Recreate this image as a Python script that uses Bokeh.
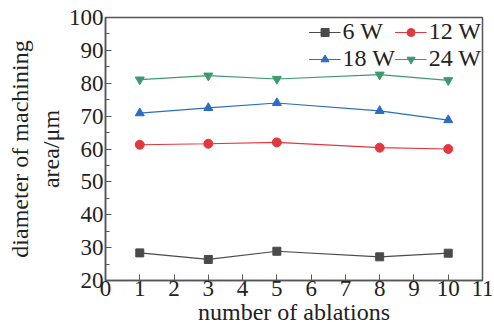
from bokeh.plotting import figure
from bokeh.embed import file_html
from bokeh.resources import INLINE
from bokeh.models import Legend, LegendItem, FixedTicker, Range1d

ablations = [1, 3, 5, 8, 10]
w6 = [28.4, 26.4, 28.9, 27.2, 28.3]
w12 = [61.3, 61.6, 62.0, 60.4, 60.0]
w18 = [70.9, 72.5, 74.0, 71.6, 68.8]
w24 = [81.1, 82.3, 81.3, 82.6, 80.9]
series_labels = ["6 W", "12 W", "18 W", "24 W"]
x_ticks = list(range(0, 12))
y_ticks = list(range(20, 101, 10))

FONT = "Liberation Serif"

p = figure(width=494, height=333, output_backend="svg", toolbar_location=None,
           x_range=Range1d(0, 11), y_range=Range1d(20, 100),
           min_border_left=105, min_border_right=12, min_border_top=17, min_border_bottom=53)
p.background_fill_color = "white"
p.border_fill_color = "white"
p.outline_line_color = "#555555"
p.outline_line_width = 1.5
p.grid.visible = False

colors = ["#4a4a4a", "#e0393f", "#2b6cc4", "#3d9a6b"]
items = []
r = p.line(ablations, w6, line_color=colors[0], line_width=1.2)
m = p.scatter(ablations, w6, marker="square", size=8, color=colors[0])
items.append(LegendItem(label=series_labels[0], renderers=[r, m]))
r = p.line(ablations, w12, line_color=colors[1], line_width=1.2)
m = p.scatter(ablations, w12, marker="circle", size=9, color=colors[1])
items.append(LegendItem(label=series_labels[1], renderers=[r, m]))
r = p.line(ablations, w18, line_color=colors[2], line_width=1.2)
m = p.scatter(ablations, w18, marker="triangle", size=9, color=colors[2])
items.append(LegendItem(label=series_labels[2], renderers=[r, m]))
r = p.line(ablations, w24, line_color=colors[3], line_width=1.2)
m = p.scatter(ablations, w24, marker="inverted_triangle", size=9, color=colors[3])
items.append(LegendItem(label=series_labels[3], renderers=[r, m]))

legend = Legend(items=items, location="top_right", orientation="horizontal", nrows=2,
                label_text_font=FONT, label_text_font_size="24px",
                label_text_color="#222222", glyph_width=32, glyph_height=20,
                label_standoff=2, spacing=0, padding=0, margin=1,
                border_line_color=None, background_fill_alpha=0,
                label_height=20)
p.add_layout(legend)

p.xaxis.ticker = FixedTicker(ticks=x_ticks)
p.yaxis.ticker = FixedTicker(ticks=y_ticks, minor_ticks=list(range(25, 100, 10)))
for ax in (p.xaxis[0], p.yaxis[0]):
    ax.axis_line_color = "#555555"
    ax.axis_line_width = 1.5
    ax.major_tick_in = 6
    ax.major_tick_out = 0
    ax.major_tick_line_color = "#555555"
    ax.major_label_text_font = FONT
    ax.major_label_text_font_size = "23px"
    ax.major_label_text_color = "#222222"
    ax.axis_label_text_font = FONT
    ax.axis_label_text_font_size = "24px"
    ax.axis_label_text_font_style = "normal"
    ax.axis_label_text_color = "#222222"
p.xaxis.minor_tick_line_color = None
p.yaxis.minor_tick_in = 4
p.yaxis.minor_tick_out = 0
p.yaxis.minor_tick_line_color = "#555555"
p.xaxis.major_label_standoff = 0
p.yaxis.major_label_standoff = 2
p.xaxis.axis_label = "number of ablations"
p.yaxis.axis_label = "diameter of machining\narea/\u03bcm"
p.xaxis.axis_label_standoff = 0
p.yaxis.axis_label_standoff = 2

open("out.html", "w").write(file_html(p, INLINE))
